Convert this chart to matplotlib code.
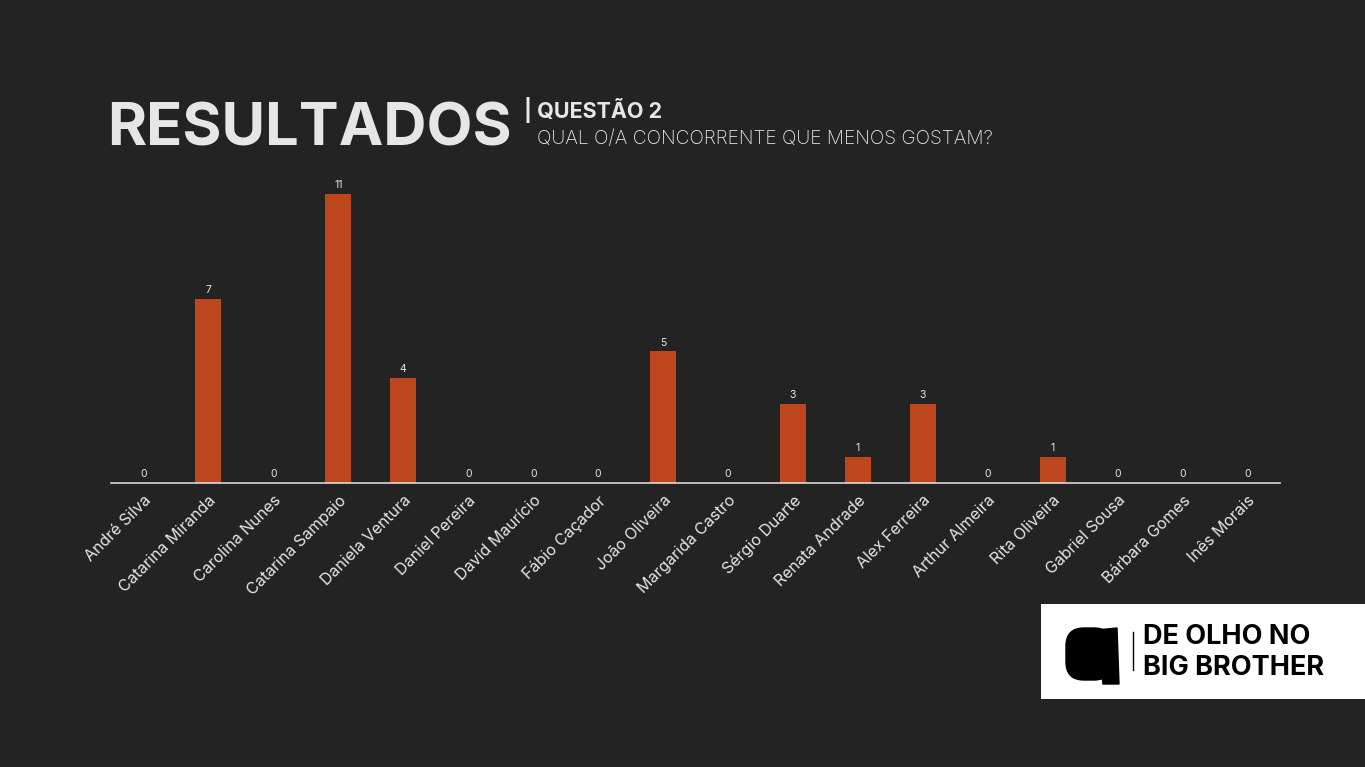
import matplotlib.pyplot as plt
from matplotlib import patches
import numpy as np

nomes = ['André Silva', 'Catarina Miranda', 'Carolina Nunes', 'Catarina Sampaio',
         'Daniela Ventura', 'Daniel Pereira', 'David Maurício', 'Fábio Caçador',
         'João Oliveira', 'Margarida Castro', 'Sérgio Duarte', 'Renata Andrade',
         'Alex Ferreira', 'Arthur Almeira', 'Rita Oliveira', 'Gabriel Sousa',
         'Bárbara Gomes', 'Inês Morais']
votos = [0, 7, 0, 11, 4, 0, 0, 0, 5, 0, 3, 1, 3, 0, 1, 0, 0, 0]

bg = '#232323'
laranja = '#BE461C'
texto = '#E6E6E6'
plt.rcParams['font.family'] = ['Inter', 'DejaVu Sans']

fig = plt.figure(figsize=(13.65, 7.67), dpi=100, facecolor=bg)

# titulo
fig.text(107 / 1365, 1 - 145 / 767, 'RESULTADOS', fontsize=43, fontweight='bold',
         color=texto, ha='left', va='baseline')
fig.text(524 / 1365, 1 - 118 / 767, '| QUESTÃO 2', fontsize=15.5, fontweight='bold',
         color=texto, ha='left', va='baseline')
fig.text(537 / 1365, 1 - 144 / 767, 'QUAL O/A CONCORRENTE QUE MENOS GOSTAM?',
         fontsize=13.8, fontweight='light', color=texto, ha='left', va='baseline')

ax = fig.add_axes([111 / 1365, 1 - 483 / 767, 1169 / 1365, 313 / 767])
ax.set_facecolor('none')
x = np.arange(len(nomes))
ax.bar(x, votos, width=0.4, color=laranja)
ax.set_xlim(-0.5, len(nomes) - 0.5)
ax.set_ylim(0, 11.9)
for xi, v in zip(x, votos):
    ax.text(xi, v + 0.15, str(v), ha='center', va='bottom', fontsize=7.5, color=texto)

for s in ['top', 'right', 'left']:
    ax.spines[s].set_visible(False)
ax.spines['bottom'].set_color('#D9D9D9')
ax.spines['bottom'].set_linewidth(1.2)
ax.set_yticks([])
ax.set_xticks(x)
ax.set_xticklabels(nomes, rotation=45, ha='right', rotation_mode='anchor',
                   fontsize=11.5, color=texto)
ax.tick_params(axis='x', length=0, pad=7)

# logo
lx = fig.add_axes([1041 / 1365, 1 - 699 / 767, 324 / 1365, 95 / 767])
lx.set_xlim(0, 324)
lx.set_ylim(95, 0)
lx.axis('off')
lx.add_patch(patches.Rectangle((0, 0), 324, 95, color='white'))
lx.add_patch(patches.FancyBboxPatch((25, 24), 46, 52, boxstyle='round,pad=0,rounding_size=18',
                                    color='black'))
lx.add_patch(patches.Polygon([[56, 26], [76, 24], [78, 80], [62, 80]], color='black'))
lx.plot([92, 92], [28, 66], color='black', lw=1)
lx.text(102, 33, 'DE OLHO NO', fontsize=19.5, fontweight='bold', color='black', va='center')
lx.text(102, 64, 'BIG BROTHER', fontsize=19.5, fontweight='bold', color='black', va='center')

fig.savefig('out.png', dpi=100, facecolor=bg)
